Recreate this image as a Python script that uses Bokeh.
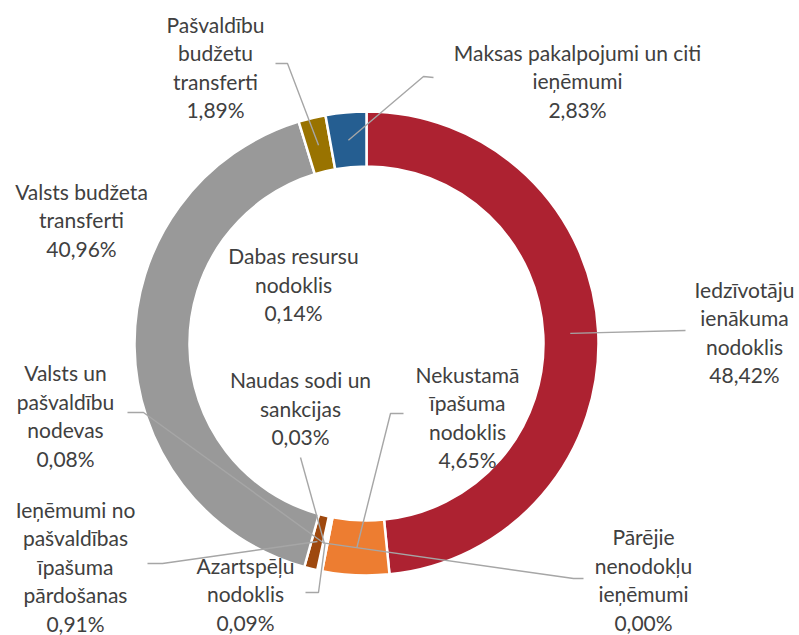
import math
from bokeh.plotting import figure
from bokeh.models import Range1d, ColumnDataSource
from bokeh.core.properties import value
from bokeh.embed import file_html
from bokeh.resources import INLINE

# ---------------- data ----------------
categories = [
    "Iedzīvotāju\nienākuma\nnodoklis",
    "Nekustamā\nīpašuma\nnodoklis",
    "Dabas resursu\nnodoklis",
    "Azartspēļu\nnodoklis",
    "Naudas sodi un\nsankcijas",
    "Valsts un\npašvaldību\nnodevas",
    "Pārējie\nnenodokļu\nieņēmumi",
    "Ieņēmumi no\npašvaldības\nīpašuma\npārdošanas",
    "Valsts budžeta\ntransferti",
    "Pašvaldību\nbudžetu\ntransferti",
    "Maksas pakalpojumi un citi\nieņēmumi",
]
shares = [48.42, 4.65, 0.14, 0.09, 0.03, 0.08, 0.00, 0.91, 40.96, 1.89, 2.83]

# ---------------- styles / layout ----------------
colors = ["#AD2231", "#ED7D31", "#FFC000", "#5B9BD5", "#70AD47", "#264478",
          "#636363", "#9E480E", "#999999", "#997300", "#255E91"]

W, H = 799, 635
CX, CY = 366, 343          # page coordinates of donut centre
R_OUT, R_IN = 232, 177
R_LEAD = 204
LINE_STEP = 28.5
FS = 21
TEXT_DY = 0                # visual centre correction for 'middle' baseline

def Y(py):
    return H - py

# label block centres (page coords, visual)
label_pos = [
    (744, 331.5), (467, 416.5), (293, 283.5), (245, 593), (300, 407.5),
    (65, 415), (643, 579), (75, 565.5), (81, 219), (215, 66.5), (577, 80),
]
# leader line waypoints after the slice point (page coords); None = no leader
leader_pts = [
    [(685, 330)],
    [(390, 413), (403, 413)],
    None,
    [(318, 592), (305, 592)],
    [(300, 457)],
    [(143, 412), (127, 412)],
    [(573, 578), (583, 578)],
    [(162, 563), (147, 563)],
    None,
    [(287, 63), (275, 63)],
    [(423, 76), (433, 77)],
]

p = figure(width=W, height=H, output_backend="svg", toolbar_location=None,
           x_range=Range1d(0, W), y_range=Range1d(0, H),
           min_border=0, outline_line_color=None, background_fill_color="white")
p.axis.visible = False
p.grid.visible = False

total = sum(shares)
starts, ends, mids, wcols = [], [], [], []
cum = 0.0
for s, c in zip(shares, colors):
    a0 = cum / total
    cum += s
    a1 = cum / total
    mids.append((a0 + a1) / 2 * 2 * math.pi)  # clockwise from top
    if s <= 0:
        continue
    starts.append(math.pi / 2 - a1 * 2 * math.pi)
    ends.append(math.pi / 2 - a0 * 2 * math.pi)
    wcols.append(c)

src = ColumnDataSource(dict(start=starts, end=ends, color=wcols))
p.annular_wedge(x=CX, y=Y(CY), inner_radius=R_IN, outer_radius=R_OUT,
                start_angle="start", end_angle="end", fill_color="color",
                line_color="white", line_width=2.5, source=src)

# leader lines
for i, pts in enumerate(leader_pts):
    if pts is None:
        continue
    m = mids[i]
    sx = CX + R_LEAD * math.sin(m)
    sy = CY - R_LEAD * math.cos(m)
    xs = [sx] + [q[0] for q in pts]
    ys = [Y(sy)] + [Y(q[1]) for q in pts]
    p.line(xs, ys, line_color="#A6A6A6", line_width=1.4)

# labels (one text per line)
tx, ty, tt = [], [], []
for (lx, ly), c, s in zip(label_pos, categories, shares):
    lines = c.split("\n") + [f"{s:.2f}".replace(".", ",") + "%"]
    n = len(lines)
    for k, ln in enumerate(lines):
        tx.append(lx)
        ty.append(Y(ly + (k - (n - 1) / 2) * LINE_STEP + TEXT_DY))
        tt.append(ln)
tsrc = ColumnDataSource(dict(x=tx, y=ty, t=tt))
p.text(x="x", y="y", text="t", source=tsrc, text_align="center", text_baseline="middle",
       text_font=value("Lato"), text_font_size=f"{FS}px", text_color="#404040")

open("out.html", "w").write(file_html(p, INLINE))
